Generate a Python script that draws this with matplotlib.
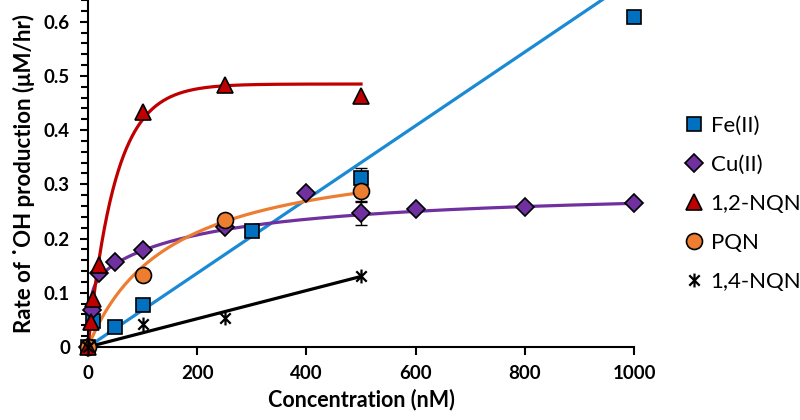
import numpy as np
import matplotlib
matplotlib.use("Agg")
import matplotlib.pyplot as plt
from matplotlib.path import Path
from matplotlib.ticker import MultipleLocator, FormatStrFormatter

plt.rcParams["font.family"] = ["Lato", "DejaVu Sans"]

# measured points (conc in nM, rate in uM/hr)
fe_x = [0, 10, 50, 100, 300, 500, 1000]
fe_y = [0, 0.048, 0.037, 0.078, 0.214, 0.312, 0.609]
cu_x = [0, 8, 20, 50, 100, 250, 400, 500, 600, 800, 1000]
cu_y = [0, 0.068, 0.136, 0.156, 0.179, 0.222, 0.284, 0.247, 0.255, 0.259, 0.265]
nqn12_x = [0, 5, 10, 20, 100, 250, 500]
nqn12_y = [0, 0.046, 0.088, 0.152, 0.434, 0.484, 0.462]
pqn_x = [0, 100, 250, 500]
pqn_y = [0, 0.133, 0.234, 0.287]
nqn14_x = [0, 100, 250, 500]
nqn14_y = [0, 0.043, 0.053, 0.130]

# error bars at 500 nM
err_fe = 0.018
err_cu = 0.022
err_pqn = 0.02

# fitted curves
fe_slope = 0.00068
nqn14_slope = 0.00026
nqn12_max, nqn12_tau = 0.485, 50.0
pqn_vmax, pqn_k = 0.37, 150.0
cu_a1, cu_k1, cu_a2, cu_k2 = 0.13, 3.0, 0.165, 220.0

c_fe, c_fe_line = "#0070C0", "#1A8AD4"
c_cu = "#7030A0"
c_red = "#C00000"
c_or = "#ED7D31"

# excel-style star: vertical bar plus an X
star = Path([(0, -1), (0, 1), (-0.75, -0.75), (0.75, 0.75), (-0.75, 0.75), (0.75, -0.75)],
            [Path.MOVETO, Path.LINETO, Path.MOVETO, Path.LINETO, Path.MOVETO, Path.LINETO])

fig = plt.figure(figsize=(8, 4.2), dpi=100)
ax = fig.add_axes([0.11, 0.174, 0.6825, 0.826])

xs = np.linspace(0, 1000, 400)
xh = np.linspace(0, 500, 300)
lw = 2.3
ax.plot(xs, fe_slope * xs, color=c_fe_line, lw=lw, zorder=2)
ax.plot(xs, cu_a1 * xs / (cu_k1 + xs) + cu_a2 * xs / (cu_k2 + xs), color=c_cu, lw=lw, zorder=2)
ax.plot(xh, pqn_vmax * xh / (pqn_k + xh), color=c_or, lw=lw, zorder=2)
ax.plot(xh, nqn14_slope * xh, color="black", lw=lw, zorder=2)
ax.plot(xh, nqn12_max * (1 - np.exp(-xh / nqn12_tau)), color=c_red, lw=lw, zorder=2)

eb = dict(fmt="none", ecolor="black", elinewidth=1, capsize=4, zorder=3)
ax.errorbar([500], [fe_y[5]], yerr=err_fe, **eb)
ax.errorbar([500], [cu_y[7]], yerr=err_cu, **eb)
ax.errorbar([500], [pqn_y[3]], yerr=err_pqn, **eb)

mk = dict(ls="none", mec="black", mew=1.2, clip_on=False, zorder=4)
h_fe, = ax.plot(fe_x, fe_y, marker="s", ms=10, mfc=c_fe, label="Fe(II)", **mk)
h_cu, = ax.plot(cu_x, cu_y, marker="D", ms=9.5, mfc=c_cu, label="Cu(II)", **mk)
h_pqn, = ax.plot(pqn_x, pqn_y, marker="o", ms=11.5, mfc=c_or, label="PQN", **mk)
h_red, = ax.plot(nqn12_x, nqn12_y, marker="^", ms=11.5, mfc=c_red, label="1,2-NQN", **mk)
h_14, = ax.plot(nqn14_x, nqn14_y, marker=star, ms=10, color="black", mew=1.6,
                ls="none", clip_on=False, zorder=5, label="1,4-NQN")

ax.set_xlim(0, 1000)
ax.set_ylim(0, 0.64)
ax.xaxis.set_major_locator(MultipleLocator(200))
ax.yaxis.set_major_locator(MultipleLocator(0.1))
ax.yaxis.set_minor_locator(MultipleLocator(0.02))
ax.yaxis.set_major_formatter(FormatStrFormatter("%g"))
ax.tick_params(axis="both", direction="out", length=6, width=1.5, labelsize=13.5, pad=7)
ax.tick_params(axis="y", which="minor", direction="out", length=5, width=1.5)
for lab in ax.get_xticklabels() + ax.get_yticklabels():
    lab.set_fontweight("bold")
for s in ["top", "right"]:
    ax.spines[s].set_visible(False)
for s in ["left", "bottom"]:
    ax.spines[s].set_linewidth(1.5)

ax.set_xlabel("Concentration (nM)", fontsize=15.5, fontweight="bold", labelpad=5)
ax.set_ylabel("Rate of \u02d9OH production (\u03bcM/hr)", fontsize=16, fontweight="bold", labelpad=6)

fig.legend(handles=[h_fe, h_cu, h_red, h_pqn, h_14], loc="upper left",
           bbox_to_anchor=(0.848, 0.745), frameon=False, fontsize=16,
           handlelength=0.6, handletextpad=0.45, labelspacing=0.85, borderaxespad=0)

fig.savefig("out.png", dpi=100)
